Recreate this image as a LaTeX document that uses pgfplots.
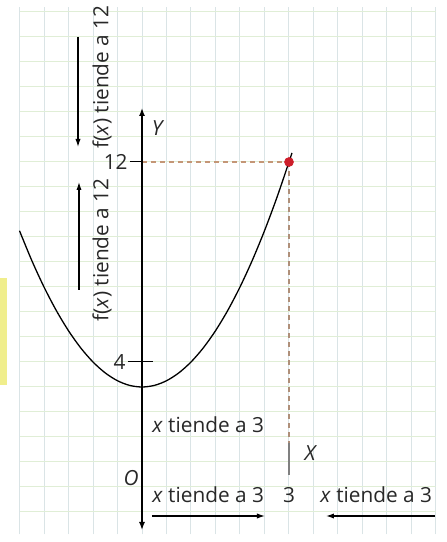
\documentclass[border=0pt]{standalone}
\usepackage{fontspec}
\setmainfont{Open Sans}
\usepackage{pgfplots}
\pgfplotsset{compat=1.18}
\usetikzlibrary{arrows.meta}

\definecolor{vgrid}{RGB}{218,228,230}
\definecolor{hgrid}{RGB}{224,238,214}
\definecolor{guide}{RGB}{196,150,118}
\definecolor{dotred}{RGB}{205,30,42}
\definecolor{marker}{RGB}{240,238,140}
\definecolor{ink}{RGB}{40,40,40}

\begin{document}
\begin{tikzpicture}[font=\fontsize{10.4}{12}\selectfont, text=ink]
\begin{axis}[
  x=24.5pt, y=12.5pt,
  xmin=-2.5, xmax=6, ymin=-2.9, ymax=18.2,
  axis line style={draw=none},
  xtick={-2.5,-2,...,6}, ytick={-2,-1,...,18},
  xticklabels={}, yticklabels={},
  major tick length=0pt,
  grid=major,
  x grid style={vgrid, line width=0.5pt},
  y grid style={hgrid, line width=0.5pt},
  clip=false,
]
% page corners, used for the bounding box below
\coordinate (ll) at (axis cs:-2.898,-3.2);
\coordinate (ur) at (axis cs:6.224,18.48);

% yellow margin strip
\fill[marker] (axis cs:-2.898,3.08) rectangle (axis cs:-2.755,7.36);

% guide lines to the point (3,12)
\addplot[guide, dash pattern=on 2.5pt off 2pt, line width=0.55pt] coordinates {(0,12) (3,12)};
\addplot[guide!70!gray, dash pattern=on 2.5pt off 2pt, line width=0.55pt] coordinates {(3,12) (3,0.76)};
\addplot[gray, line width=0.6pt] coordinates {(3,0.76) (3,-0.52)};

% y axis with arrows at both ends
\addplot[black, line width=0.7pt, {Latex[length=4pt,width=3pt]}-{Latex[length=4pt,width=3pt]}]
  coordinates {(0,-2.72) (0,14.16)};

% ticks at 4 and 12
\addplot[black, line width=0.5pt] coordinates {(-0.245,12) (0,12)};
\addplot[black, line width=0.5pt] coordinates {(-0.286,4) (0.224,4)};

% f(x) = x^2 + 3
\addplot[black, line width=0.65pt, smooth] coordinates {
  (-2.5,9.25) (-2.25,8.0625) (-2,7) (-1.75,6.0625) (-1.5,5.25)
  (-1.25,4.5625) (-1,4) (-0.75,3.5625) (-0.5,3.25) (-0.25,3.0625)
  (0,3) (0.25,3.0625) (0.5,3.25) (0.75,3.5625) (1,4) (1.25,4.5625)
  (1.5,5.25) (1.75,6.0625) (2,7) (2.25,8.0625) (2.5,9.25)
  (2.75,10.5625) (3,12) (3.06,12.3636)};

% the point (3,12)
\addplot[only marks, mark=*, mark size=2.2pt, dotred, mark options={draw=dotred}] coordinates {(3,12)};

% labels
\node[anchor=east, inner sep=1pt] at (axis cs:-0.245,12) {12};
\node[anchor=east, inner sep=1pt] at (axis cs:-0.286,4) {4};
\node at (axis cs:0.31,13.36) {\itshape Y};
\node at (axis cs:-0.224,-0.64) {\itshape O};
\node at (axis cs:3.43,0.36) {\itshape X};
\node at (axis cs:3,-1.32) {3};
\node at (axis cs:1.35,1.48) {\textit{x} tiende a 3};
\node at (axis cs:1.35,-1.32) {\textit{x} tiende a 3};
\node at (axis cs:4.78,-1.32) {\textit{x} tiende a 3};
\node[rotate=90] at (axis cs:-0.816,15.4) {f(\textit{x}) tiende a 12};
\node[rotate=90] at (axis cs:-0.816,8.48) {f(\textit{x}) tiende a 12};

% direction arrows
\addplot[black, line width=0.6pt, -{Latex[length=4pt,width=2.6pt]}] coordinates {(0.204,-2.16) (2.51,-2.16)};
\addplot[black, line width=0.6pt, -{Latex[length=4pt,width=2.6pt]}] coordinates {(5.98,-2.16) (3.755,-2.16)};
\addplot[black, line width=0.6pt, -{Latex[length=4pt,width=2.6pt]}] coordinates {(-1.306,17.0) (-1.306,12.6)};
\addplot[black, line width=0.6pt, -{Latex[length=4pt,width=2.6pt]}] coordinates {(-1.286,6.88) (-1.286,11.2)};
\end{axis}
\pgfresetboundingbox
\path (ll) rectangle (ur);
\end{tikzpicture}
\end{document}
